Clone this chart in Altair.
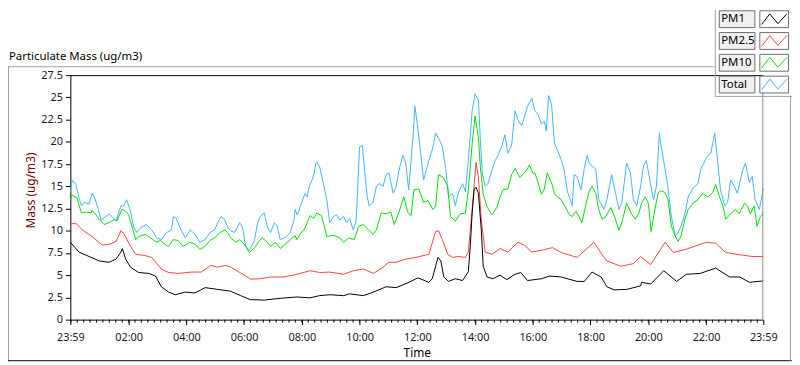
import altair as alt
import pandas as pd

FONT = "Noto Sans"

series_names = ["PM1", "PM2.5", "PM10", "Total"]
series_colors = ["#000000", "#ff4040", "#00e000", "#40b4ff"]

# (minutes since 23:59, ug/m3)
pm1 = [(0,8.7),(18,7.6),(60,6.6),(80,6.45),(95,6.8),(105,7.6),(108,8.0),(115,6.8),(125,5.9),(142,5.3),
       (163,5.2),(177,4.9),(189,3.7),(204,3.1),(218,2.8),(239,3.1),(259,3.0),(280,3.6),(306,3.4),(333,3.2),
       (354,2.7),(374,2.25),(403,2.2),(436,2.4),(471,2.55),(498,2.45),(518,2.7),(539,2.8),(568,2.7),(580,2.9),
       (609,2.7),(630,3.1),(656,3.7),(677,3.6),(704,4.2),(722,4.7),(745,4.2),(752,4.6),(760,6.2),(764,7.0),
       (770,6.6),(776,4.8),(786,4.3),(800,4.6),(815,4.4),(827,5.4),(831,8.2),(835,12.0),(839,14.6),(843,14.9),
       (848,14.2),(854,10.1),(858,6.0),(866,4.8),(878,4.6),(893,5.0),(907,4.5),(924,5.1),(936,5.3),(950,4.4),
       (979,4.6),(996,4.9),(1020,4.8),(1053,4.3),(1068,4.3),(1084,5.35),(1103,4.8),(1115,3.7),(1130,3.35),
       (1156,3.4),(1185,3.8),(1187,4.2),(1206,4.0),(1233,5.5),(1260,4.3),(1280,5.1),(1309,5.2),(1341,5.8),
       (1370,4.8),(1391,4.8),(1411,4.2),(1440,4.35)]

pm25 = [(0,10.8),(12,10.8),(25,10.1),(45,9.35),(66,8.4),(80,8.45),(95,8.8),(105,10.0),(111,9.7),(125,8.25),
        (136,7.35),(156,7.2),(169,7.0),(189,5.7),(204,5.3),(224,5.2),(251,5.35),(272,5.35),(292,6.1),(306,5.9),
        (323,6.1),(333,5.9),(362,5.0),(374,4.55),(395,4.6),(416,4.8),(444,4.8),(471,5.1),(498,5.5),(518,5.3),
        (539,5.35),(568,5.1),(588,5.5),(609,5.7),(630,5.2),(650,5.9),(662,6.45),(677,6.45),(697,6.8),(718,7.0),
        (745,7.35),(759,9.9),(765,10.0),(773,9.0),(784,7.35),(794,7.0),(806,7.1),(821,7.0),(827,7.6),(835,12.4),
        (843,17.7),(848,16.0),(854,11.2),(862,7.6),(876,7.35),(893,8.0),(909,7.6),(930,8.7),(944,8.35),(959,7.6),
        (979,7.8),(1002,8.1),(1020,7.55),(1053,7.0),(1088,8.7),(1109,7.0),(1115,6.6),(1144,6.0),(1170,6.3),
        (1185,7.1),(1206,6.2),(1236,8.7),(1253,7.55),(1279,7.9),(1321,8.7),(1341,8.6),(1362,7.55),(1391,7.3),
        (1417,7.1),(1440,7.1)]

pm10 = [(0,13.5),(4,14.0),(14,13.7),(19,12.7),(23,12.0),(33,12.1),(43,12.0),(45,12.3),(53,11.8),(60,11.25),
        (70,10.7),(80,10.9),(91,11.25),(97,11.1),(107,12.4),(115,12.2),(121,11.8),(128,10.5),(136,9.0),(142,9.35),
        (156,9.6),(167,9.2),(179,8.7),(187,8.9),(197,8.45),(204,8.25),(214,9.0),(224,8.9),(234,8.25),(249,8.7),
        (259,8.5),(269,7.9),(280,8.25),(290,8.9),(300,9.2),(311,9.8),(321,10.1),(327,9.8),(333,9.2),(344,8.7),
        (352,9.0),(362,8.45),(372,7.55),(383,8.1),(393,8.9),(399,9.2),(409,8.7),(416,8.25),(426,8.7),(436,8.0),
        (446,8.45),(457,9.0),(467,9.45),(471,9.0),(477,9.6),(485,10.1),(488,10.35),(498,11.7),(506,11.4),(512,12.0),
        (522,11.7),(533,9.35),(547,9.5),(560,9.2),(568,8.7),(578,9.2),(590,9.0),(599,10.5),(609,10.7),(619,10.1),
        (629,9.6),(636,10.1),(646,12.0),(656,11.9),(666,12.1),(673,10.7),(683,12.1),(693,13.8),(701,12.1),(708,11.7),
        (714,14.6),(724,14.7),(734,13.2),(743,13.4),(753,12.4),(759,12.7),(765,16.3),(775,16.0),(784,15.0),(790,11.6),
        (800,11.1),(810,11.9),(821,12.0),(827,14.6),(835,19.8),(841,22.9),(848,20.5),(852,17.2),(858,14.1),(866,12.7),
        (876,11.8),(887,12.7),(893,13.8),(899,14.6),(909,14.7),(917,16.3),(924,17.0),(934,16.0),(940,16.3),(948,16.8),
        (954,17.4),(961,16.5),(965,16.5),(971,15.6),(979,14.1),(985,14.7),(991,16.5),(1000,15.4),(1006,14.2),
        (1012,13.8),(1020,13.5),(1031,12.4),(1037,11.8),(1043,11.6),(1051,12.2),(1057,11.6),(1063,10.9),(1072,13.1),
        (1078,14.4),(1084,15.0),(1092,14.2),(1098,12.4),(1105,11.3),(1113,11.6),(1123,12.6),(1129,11.9),(1140,10.1),
        (1146,10.9),(1156,13.1),(1166,11.9),(1174,11.3),(1181,11.9),(1187,13.1),(1195,13.8),(1201,13.1),(1207,9.9),
        (1216,12.8),(1222,14.3),(1228,14.5),(1236,14.3),(1242,13.5),(1249,10.5),(1257,9.4),(1263,8.8),(1269,9.4),
        (1277,11.3),(1284,12.4),(1294,13.1),(1304,13.5),(1314,14.2),(1325,13.8),(1335,14.3),(1341,15.2),(1349,13.8),
        (1356,12.8),(1362,11.3),(1372,11.9),(1382,12.4),(1390,11.9),(1401,13.1),(1407,12.8),(1413,11.9),(1421,12.8),
        (1427,10.5),(1434,11.6),(1440,11.9)]

total = [(0,14.4),(4,15.7),(12,15.2),(14,14.6),(19,13.5),(23,12.8),(29,13.2),(39,13.0),(45,14.2),(49,13.9),
         (56,12.8),(64,11.2),(74,11.6),(80,11.9),(86,11.6),(95,11.1),(105,12.8),(111,12.8),(117,13.5),(125,12.2),
         (132,10.35),(138,9.8),(146,10.35),(158,10.7),(169,10.1),(179,9.2),(189,9.0),(200,9.8),(210,10.1),(214,11.6),
         (220,11.4),(228,10.35),(239,9.2),(249,10.1),(259,9.6),(269,8.7),(280,9.0),(290,9.8),(300,10.1),(306,10.9),
         (313,11.6),(321,11.25),(327,10.35),(333,10.0),(341,9.8),(352,10.9),(358,10.35),(364,8.25),(372,7.8),(383,9.0),
         (389,10.9),(395,11.6),(403,12.0),(409,10.5),(416,9.8),(424,10.9),(430,10.5),(436,9.0),(446,9.2),(457,9.8),
         (465,11.25),(467,12.4),(471,11.8),(475,12.2),(477,12.7),(481,13.2),(485,13.8),(488,14.2),(492,13.8),(496,14.9),
         (502,15.7),(506,16.3),(510,17.6),(512,17.7),(518,17.2),(527,15.0),(533,13.5),(539,10.9),(547,11.6),(553,11.8),
         (560,11.2),(568,11.6),(574,10.9),(580,11.4),(588,10.1),(594,11.2),(601,19.4),(607,19.6),(611,17.0),(617,13.8),
         (621,12.8),(629,13.2),(636,15.0),(642,15.3),(650,15.0),(656,16.3),(662,16.5),(671,14.2),(677,15.0),(683,16.8),
         (691,18.5),(697,17.6),(703,14.6),(712,20.5),(716,24.0),(722,21.6),(728,18.7),(734,15.7),(745,17.9),(753,19.3),
         (759,21.0),(765,20.4),(773,19.5),(780,17.0),(786,13.8),(794,14.2),(800,12.8),(806,14.2),(815,15.3),(821,14.4),
         (827,17.9),(835,23.5),(841,25.4),(848,24.7),(852,20.2),(856,16.5),(862,15.0),(868,15.3),(876,16.8),(882,17.8),
         (889,18.5),(897,19.6),(903,20.8),(909,18.7),(917,19.6),(924,23.5),(930,22.5),(938,21.8),(944,22.9),(950,24.0),
         (959,24.9),(965,23.5),(971,23.2),(979,22.0),(985,22.3),(989,21.2),(994,25.2),(1000,24.2),(1006,19.8),
         (1012,19.1),(1020,18.0),(1026,16.9),(1033,14.4),(1041,13.2),(1043,12.8),(1047,16.3),(1053,16.1),(1061,14.6),
         (1068,17.0),(1074,18.5),(1078,17.6),(1084,17.3),(1092,16.9),(1098,13.5),(1109,12.4),(1115,13.5),(1125,16.3),
         (1133,14.2),(1140,12.4),(1146,13.2),(1156,17.6),(1164,16.5),(1170,13.5),(1177,12.8),(1185,15.0),(1191,17.3),
         (1197,17.9),(1205,15.4),(1212,13.5),(1218,15.0),(1224,21.0),(1228,19.4),(1236,16.9),(1242,14.8),(1249,11.6),
         (1257,9.4),(1263,9.8),(1269,10.5),(1277,11.9),(1284,13.8),(1294,14.8),(1304,15.3),(1310,16.9),(1319,17.9),
         (1325,18.5),(1331,18.7),(1339,21.0),(1345,17.9),(1351,14.6),(1360,12.8),(1366,13.2),(1372,15.7),(1380,15.0),
         (1386,14.2),(1397,16.8),(1403,17.6),(1411,15.4),(1417,16.1),(1423,13.5),(1432,12.4),(1438,14.2),(1440,14.8)]

tick_values = [0, 121, 241, 361, 481, 601, 721, 841, 961, 1081, 1201, 1321, 1440]
tick_labels = ["23:59", "02:00", "04:00", "06:00", "08:00", "10:00", "12:00",
               "14:00", "16:00", "18:00", "20:00", "22:00", "23:59"]
minor_ticks = [1 + k * 120 / 9 for k in range(0, 108) if 1 + k * 120 / 9 <= 1440]
y_ticks = [0, 2.5, 5, 7.5, 10, 12.5, 15, 17.5, 20, 22.5, 25, 27.5]
y_labels = ["0", "2.5", "5", "7.5", "10", "12.5", "15", "17.5", "20", "22.5", "25", "27.5"]

W, H = 700, 247

rows = []
for name, pts in zip(series_names, [pm1, pm25, pm10, total]):
    for t, v in pts:
        rows.append({"series": name, "t": t, "v": v})
df = pd.DataFrame(rows)


def lookup_expr(labels, values):
    return ("[" + ",".join("'%s'" % s for s in labels) + "][indexof([" +
            ",".join(str(v) for v in values) + "], datum.value)]")


color_scale = alt.Scale(domain=series_names, range=series_colors)

x_enc = alt.X("t:Q", scale=alt.Scale(domain=[0, 1440], nice=False, zero=False),
              axis=alt.Axis(values=tick_values, labelExpr=lookup_expr(tick_labels, tick_values),
                            title="Time", tickSize=5, labelPadding=7, labelFlush=False,
                            labelOverlap=False, labelBound=False, titleY=33,
                            titleBaseline="middle", titleColor="#000000"))
y_enc = alt.Y("v:Q", scale=alt.Scale(domain=[0, 27.5], nice=False),
              axis=alt.Axis(values=y_ticks, labelExpr=lookup_expr(y_labels, y_ticks),
                            title="Mass (ug/m3)", tickSize=5, labelPadding=3, labelOverlap=False,
                            titleX=-40, titleY=116, titleAlign="center",
                            titleBaseline="middle", titleColor="#7a0000"))

line_layers = []
for name in ["Total", "PM10", "PM2.5", "PM1"]:
    line_layers.append(
        alt.Chart(df).transform_filter(alt.datum.series == name)
        .mark_line(strokeWidth=1)
        .encode(x=x_enc, y=y_enc, color=alt.Color("series:N", scale=color_scale, legend=None))
    )

minor = alt.Chart(pd.DataFrame({"t": minor_ticks})).mark_rule(color="#000000", strokeWidth=1).encode(
    x=alt.X("t:Q"), y=alt.value(H), y2=alt.value(H + 3))

lines = alt.layer(*line_layers, minor)

one = pd.DataFrame({"a": [0]})


def rule(x1, x2, y1, y2, color):
    return alt.Chart(one).mark_rule(color=color, strokeWidth=1).encode(
        x=alt.value(x1), x2=alt.value(x2), y=alt.value(y1), y2=alt.value(y2))


deco = [
    rule(0, W, 0.5, 0.5, "#000000"),                # plot top border
    rule(W - 0.5, W - 0.5, 0, H, "#8c8c8c"),        # plot right border
    rule(-63, 651, -8.5, -8.5, "#a0a0a0"),          # frame top
    rule(-62.5, -62.5, -8.5, 289, "#a0a0a0"),       # frame left
    rule(-63, 729, 288.5, 288.5, "#000000"),        # frame bottom
    rule(651.5, 651.5, -66, 21, "#a0a0a0"),         # legend left
    rule(651.5, 729, 21.5, 21.5, "#a0a0a0"),        # legend bottom
    rule(727.5, 727.5, 21.5, 289, "#a0a0a0"),       # frame right
]

title = alt.Chart(one).mark_text(align="left", baseline="alphabetic", font=FONT, fontSize=11.5,
                                 color="#000000").encode(
    x=alt.value(-62), y=alt.value(-15), text=alt.value("Particulate Mass (ug/m3)"))

leg_df = pd.DataFrame({"series": series_names})
yleg = alt.Y("series:N", scale=alt.Scale(type="band", domain=series_names, range=[-65, 18],
                                         paddingInner=0.227, paddingOuter=0), axis=None)
ZIG = "M-1,0.42L-0.35,-0.42L0.3,0.35L1,-0.42"

leg_box = alt.Chart(leg_df).mark_rect(fill="#f0f0f0", stroke="#6e6e6e", strokeWidth=1).encode(
    x=alt.value(655.5), x2=alt.value(691.5), y=yleg)
leg_txt = alt.Chart(leg_df).mark_text(align="left", baseline="middle", font=FONT, fontSize=11.5,
                                      color="#000000").encode(
    x=alt.value(657.5), y=yleg, text="series:N")
leg_sym_box = alt.Chart(leg_df).mark_rect(fill="#ffffff", stroke="#6e6e6e", strokeWidth=1).encode(
    x=alt.value(696.5), x2=alt.value(725.5), y=yleg)
leg_sym = alt.Chart(leg_df).mark_point(shape=ZIG, size=650, filled=False, strokeWidth=1,
                                       opacity=1).encode(
    x=alt.value(711), y=yleg, color=alt.Color("series:N", scale=color_scale, legend=None))

legend = alt.layer(*deco, title, leg_box, leg_txt, leg_sym_box, leg_sym)

chart = alt.layer(lines, legend).resolve_scale(y="independent").properties(
    width=W, height=H,
    padding={"left": 63, "top": 66, "right": 29, "bottom": 44},
    autosize=alt.AutoSizeParams(type="none"),
    background="#ffffff",
).configure_view(stroke=None).configure_axis(
    grid=False, domainColor="#000000", tickColor="#000000", labelColor="#1a1a1a",
    labelFont=FONT, labelFontSize=11, titleFont=FONT, titleFontSize=12,
    titleFontWeight="normal", domainWidth=1, tickWidth=1,
)

chart.save("out.html", embed_options={"renderer": "svg", "actions": False})
